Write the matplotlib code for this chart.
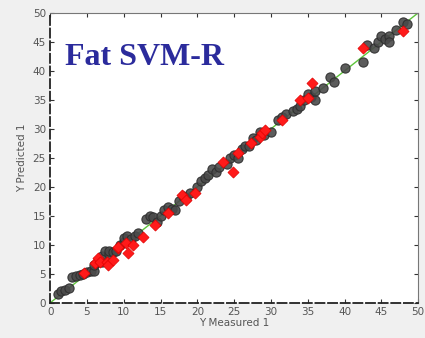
import matplotlib.pyplot as plt
import numpy as np

# measured / predicted values
gris_x = [1.0, 1.5, 2.0, 2.5, 3.0, 3.5, 4.0, 4.5, 5.0, 5.5, 6.0, 6.0, 6.5, 7.0, 7.0, 7.5,
          8.0, 8.0, 8.5, 9.0, 9.5, 10.0, 10.0, 10.5, 11.0, 11.5, 12.0, 13.0, 13.5, 14.0,
          14.5, 15.0, 15.5, 16.0, 16.5, 17.0, 17.5, 18.0, 18.5, 19.0, 20.0, 20.5, 21.0,
          21.5, 22.0, 22.5, 23.0, 24.0, 24.5, 25.0, 25.5, 26.0, 26.5, 27.0, 27.5, 28.0,
          28.5, 29.0, 30.0, 31.0, 31.5, 32.0, 33.0, 33.5, 34.0, 34.5, 35.0, 35.5, 36.0,
          36.0, 37.0, 38.0, 38.5, 40.0, 42.5, 43.0, 44.0, 44.5, 45.0, 45.5, 46.0, 46.0,
          47.0, 48.0, 48.5]
gris_y = [1.5, 2.0, 2.3, 2.5, 4.5, 4.7, 4.8, 5.0, 5.3, 5.5, 5.5, 6.5, 7.0, 7.0, 8.0, 9.0,
          8.5, 9.0, 8.8, 9.0, 10.0, 10.5, 11.2, 11.5, 11.0, 11.5, 12.0, 14.5, 15.0, 14.8,
          14.0, 15.0, 16.0, 16.5, 16.2, 16.0, 17.5, 18.5, 18.0, 19.0, 20.0, 21.0, 21.5,
          22.0, 23.0, 22.5, 23.5, 24.0, 25.0, 25.5, 25.0, 26.5, 27.0, 27.0, 28.5, 28.0,
          29.5, 29.0, 29.5, 31.5, 32.0, 32.5, 33.0, 33.5, 34.0, 35.0, 36.0, 35.5, 35.0,
          36.5, 37.0, 39.0, 38.0, 40.5, 41.5, 44.5, 44.0, 45.0, 46.0, 45.5, 46.0, 45.0,
          47.0, 48.5, 48.0]

rojo_x = [4.6, 6.1, 6.5, 6.8, 7.7, 7.9, 8.6, 9.2, 9.2, 10.3, 10.6, 11.3, 12.6, 14.3,
          16.0, 17.9, 18.5, 19.7, 23.5, 24.9, 25.5, 27.3, 28.5, 28.8, 29.2, 31.5, 34.0,
          35.0, 35.6, 42.5, 48.0]
rojo_y = [5.2, 6.9, 7.8, 7.0, 7.1, 6.6, 7.4, 9.5, 9.7, 10.3, 8.6, 10.0, 11.4, 13.4,
          15.5, 18.6, 17.8, 19.0, 24.3, 22.6, 25.9, 27.6, 28.6, 29.3, 29.8, 31.5, 35.0,
          35.3, 37.9, 44.0, 46.9]

ticks = [0, 5, 10, 15, 20, 25, 30, 35, 40, 45, 50]

fig = plt.figure(figsize=(4.25, 3.38), dpi=100, facecolor='#f0f0f0')
ax = fig.add_axes([0.118, 0.104, 0.866, 0.858])

ax.plot([0, 50], [0, 50], color='#5dc43a', lw=1.0, zorder=2)
ax.scatter(gris_x, gris_y, s=44, c='#4a4a4a', edgecolors='#2e2e2e', linewidths=0.8,
           alpha=0.9, zorder=3)
ax.scatter(rojo_x, rojo_y, s=32, marker='D', c='#ff1a1a', edgecolors='#e00000',
           linewidths=0.5, zorder=4)

ax.set_xlim(0, 50)
ax.set_ylim(0, 50)
ax.set_xticks(ticks)
ax.set_yticks(ticks)
ax.tick_params(direction='in', length=3, labelsize=7.5, labelcolor='#555555',
               color='#333333', top=True, right=True, pad=3)

for lado in ['top', 'right']:
    ax.spines[lado].set_color('#777777')
    ax.spines[lado].set_linewidth(0.8)
for lado in ['bottom', 'left']:
    ax.spines[lado].set_color('#222222')
    ax.spines[lado].set_linewidth(1.3)
    ax.spines[lado].set_linestyle((0, (5, 2)))

ax.set_xlabel('Y Measured 1', fontsize=7.5, color='#555555', labelpad=1)
ax.set_ylabel('Y Predicted 1', fontsize=7.5, color='#555555', labelpad=4)

ax.text(0.04, 0.845, 'Fat SVM-R', transform=ax.transAxes, fontsize=23,
        fontweight='bold', family='Liberation Serif', color='#2b2b9c', va='center')

fig.savefig('out.png', dpi=100, facecolor=fig.get_facecolor())
